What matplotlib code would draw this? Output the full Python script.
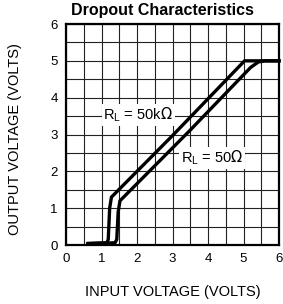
import matplotlib
matplotlib.use("Agg")
import matplotlib.pyplot as plt

vin_50k = [0.62, 1.15, 1.19, 1.23, 1.28, 3.01, 5.03, 6.0]
vout_50k = [0.04, 0.06, 0.15, 1.0, 1.30, 2.98, 5.0, 5.0]
vin_50 = [0.62, 1.38, 1.43, 1.47, 1.52, 3.48, 5.2, 5.42, 5.6, 6.0]
vout_50 = [0.04, 0.06, 0.15, 0.9, 1.20, 3.10, 4.82, 4.97, 5.0, 5.0]
ticks = [0, 1, 2, 3, 4, 5, 6]

plt.rcParams["font.family"] = ["Liberation Sans", "DejaVu Sans"]

fig = plt.figure(figsize=(2.83, 3.04), dpi=100)
ax = fig.add_axes([66 / 283, 1 - 245 / 304, 213 / 283, 221 / 304])

ax.plot(vin_50k, vout_50k, color="black", lw=2.4, solid_joinstyle="miter",
        clip_on=False, zorder=3)
ax.plot(vin_50, vout_50, color="black", lw=2.4, solid_joinstyle="miter",
        clip_on=False, zorder=3)

ax.set_xlim(0, 6)
ax.set_ylim(0, 6)
ax.set_xticks(ticks)
ax.set_yticks(ticks)
ax.set_xticks([t + 0.5 for t in ticks[:-1]], minor=True)
ax.set_yticks([t + 0.5 for t in ticks[:-1]], minor=True)
ax.grid(which="both", color="#222222", lw=0.8)
ax.tick_params(which="both", length=0, labelsize=9.5)
ax.tick_params(axis="x", pad=6)
ax.tick_params(axis="y", pad=6)
for s in ax.spines.values():
    s.set_linewidth(1.6)

box = dict(boxstyle="square,pad=0.12", fc="white", ec="none")
ax.text(2.03, 3.54, r"R$_\mathregular{L}$ = 50k$\Omega$", ha="center",
        va="center", fontsize=10.5, bbox=box, zorder=4)
ax.text(4.12, 2.36, r"R$_\mathregular{L}$ = 50$\Omega$", ha="center",
        va="center", fontsize=10.5, bbox=box, zorder=4)

ax.set_xlabel("INPUT VOLTAGE (VOLTS)", fontsize=10.5)
ax.set_ylabel("OUTPUT VOLTAGE (VOLTS)", fontsize=10.5)
ax.xaxis.set_label_coords(0.5, -0.213)
ax.yaxis.set_label_coords(-0.24, 0.48)
ax.xaxis.label.set_va("center")
ax.yaxis.label.set_va("center")
fig.text(162 / 283, 1 - 11 / 304, "Dropout Characteristics", ha="center",
         va="center", fontsize=11.5, fontweight="bold")

fig.savefig("out.png", dpi=100)
